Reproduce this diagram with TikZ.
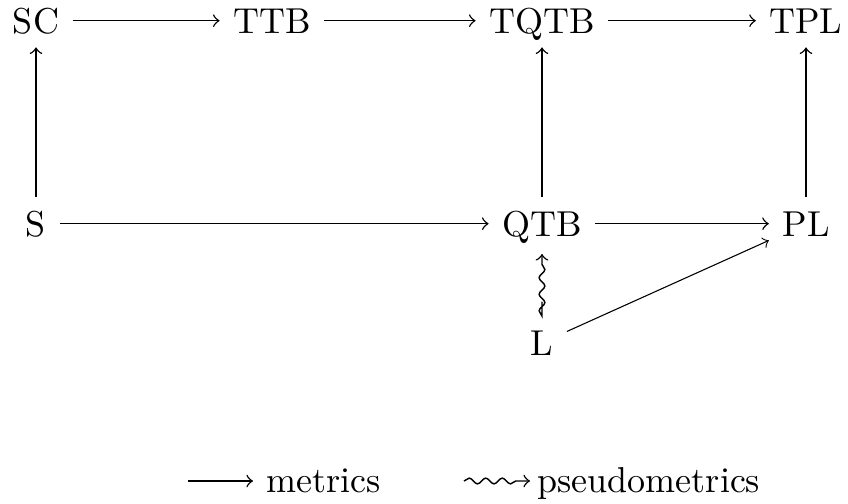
\documentclass[tikz,border=0pt]{standalone}
\usetikzlibrary{decorations.pathmorphing}
\begin{document}
\begin{tikzpicture}[x=0.2778pt,y=-0.2778pt,
  obj/.style={inner xsep=3.6pt, inner ysep=3.8pt, text height=0.683em, text depth=0pt, anchor=base},
  ar/.style={->, line width=0.4pt},
  sq/.style={->, line width=0.4pt, decorate, decoration={snake, amplitude=0.8pt, segment length=4.6pt, post length=2.5pt}}]
\useasboundingbox (0,0) rectangle (848,504);
\node[obj] (SC) at (36,33) {SC};
\node[obj] (TTB) at (272,33) {TTB};
\node[obj] (TQTB) at (542,33) {TQTB};
\node[obj] (TPL) at (806,33) {TPL};
\node[obj] (S) at (36,236) {S};
\node[obj] (QTB) at (542,236) {QTB};
\node[obj] (PL) at (806,236) {PL};
\node[obj] (L) at (542,355) {L};
\draw[ar] (SC) -- (TTB);
\draw[ar] (TTB) -- (TQTB);
\draw[ar] (TQTB) -- (TPL);
\draw[ar] (S) -- (SC);
\draw[ar] (S) -- (QTB);
\draw[ar] (QTB) -- (TQTB);
\draw[ar] (QTB) -- (PL);
\draw[ar] (PL) -- (TPL);
\draw[sq, shorten <=4pt, shorten >=1pt] (L) -- (QTB);
\draw[->, line width=0.3pt] (L) -- (PL);
% legend
\coordinate (m1) at (188,481);
\coordinate (m2) at (253,481);
\draw[ar] (m1) -- (m2);
\node[anchor=base west, inner sep=0] (mt) at (266,493) {metrics};
\coordinate (p1) at (464,481);
\coordinate (p2) at (530,481);
\draw[sq] (p1) -- (p2);
\node[anchor=base west, inner sep=0] (pt) at (537,493) {pseudometrics};
\end{tikzpicture}
\end{document}
